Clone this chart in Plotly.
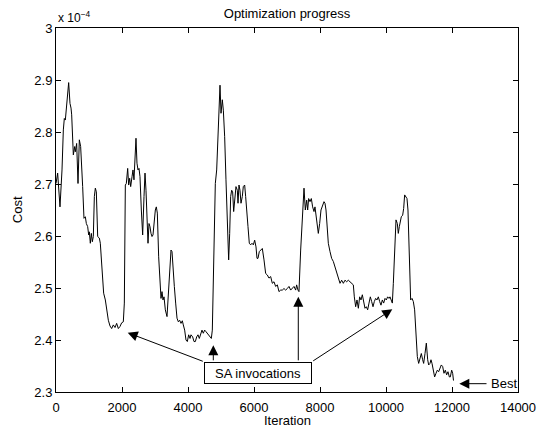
"""Optimization progress: cost per iteration, MATLAB-style figure."""
import plotly.graph_objects as go

# cost values are in units of 1e-4 (the axis carries the "x 10^-4" multiplier)
iteration = [
    0, 50, 121, 182, 222, 252, 283, 323, 384, 424, 455, 475, 525, 566, 586, 626, 667, 707, 747, 808,
    848, 889, 919, 960, 990, 1010, 1040, 1071, 1101, 1131, 1162, 1192, 1222, 1263, 1313, 1343, 1394,
    1444, 1495, 1535, 1586, 1636, 1687, 1737, 1788, 1838, 1889, 1939, 1990, 2040, 2071, 2101,
    2131, 2172, 2202, 2232, 2263, 2303, 2333, 2363, 2394, 2424, 2454, 2485, 2515, 2545, 2586, 2626,
    2667, 2697, 2727, 2757, 2788, 2818, 2848, 2879, 2909, 2939, 2970, 3010, 3040, 3071, 3111, 3152,
    3182, 3212, 3242, 3273, 3313, 3364, 3404, 3444, 3485, 3515, 3545, 3586, 3626, 3667, 3707, 3747,
    3788, 3828, 3858, 3899, 3939, 3980, 4020, 4061, 4091,
    4141, 4182, 4222, 4263, 4303, 4343, 4384, 4424, 4464, 4505, 4545, 4586, 4626, 4666, 4707, 4737,
    4767, 4798, 4828, 4869, 4899, 4919, 4939, 4970, 5000, 5020, 5040, 5071, 5111, 5151, 5192, 5232,
    5263, 5293, 5323, 5353, 5384, 5414, 5454, 5495, 5515, 5545, 5575, 5606, 5646, 5676, 5717, 5747,
    5777, 5818, 5858, 5899, 5939, 5980, 6020, 6061, 6091,
    6121, 6161, 6202, 6252, 6303, 6353, 6404, 6454, 6505, 6555, 6606, 6656, 6707, 6757, 6808, 6858,
    6909, 6959, 7010, 7060, 7111, 7161, 7212, 7262, 7292, 7333, 7363, 7414, 7464, 7515, 7555, 7596,
    7626, 7656, 7697, 7737, 7777, 7818, 7848, 7888, 7919, 7949, 7990, 8030,
    8121, 8151, 8182, 8212, 8252, 8303, 8353, 8404, 8454, 8505, 8555, 8606, 8656, 8707, 8757, 8808,
    8858, 8909, 8959, 9010, 9040, 9081, 9121, 9162, 9202, 9242, 9283, 9323, 9363, 9404, 9444, 9485,
    9525, 9565, 9606, 9646, 9687, 9727, 9768, 9808, 9848, 9889, 9929, 9970, 10010, 10050, 10091,
    10121, 10162, 10192, 10222, 10262, 10303, 10343, 10373, 10404, 10434, 10464, 10505, 10535, 10565,
    10606, 10636, 10666, 10707, 10747, 10788, 10828, 10868, 10909, 10949, 10990, 11030, 11071, 11111,
    11141, 11182, 11222, 11263, 11293, 11333, 11363, 11394, 11434, 11474, 11515, 11555, 11596, 11636,
    11676, 11717, 11757, 11798, 11838, 11878, 11919, 11949, 11990, 12020, 12045,
]
cost = [
    2.701, 2.721, 2.656, 2.727, 2.804, 2.826, 2.823, 2.855, 2.895, 2.855, 2.846, 2.833, 2.756, 2.772,
    2.762, 2.778, 2.701, 2.785, 2.772, 2.695, 2.634, 2.637, 2.624, 2.618, 2.602, 2.608, 2.586, 2.605,
    2.589, 2.599, 2.676, 2.692, 2.685, 2.599, 2.596, 2.586, 2.535, 2.490, 2.477, 2.458, 2.438, 2.427,
    2.422, 2.429, 2.424, 2.432, 2.422, 2.426, 2.433, 2.435, 2.471, 2.698,
    2.701, 2.730, 2.698, 2.711, 2.695, 2.714, 2.727, 2.708, 2.746, 2.788, 2.740, 2.727, 2.730, 2.714,
    2.650, 2.602, 2.676, 2.721, 2.688, 2.637, 2.586, 2.624, 2.618, 2.605, 2.599, 2.602, 2.631, 2.650,
    2.656, 2.644, 2.560, 2.496, 2.480, 2.493, 2.477, 2.483, 2.458, 2.445, 2.483, 2.522, 2.573, 2.570,
    2.535, 2.503, 2.471, 2.442, 2.435, 2.438, 2.432, 2.437, 2.429, 2.419, 2.400, 2.397, 2.410, 2.403,
    2.410,
    2.406, 2.397, 2.397, 2.406, 2.410, 2.403, 2.413, 2.419, 2.413, 2.419, 2.416, 2.413, 2.410, 2.406,
    2.403, 2.419, 2.503, 2.618, 2.701, 2.727, 2.772, 2.788, 2.836, 2.890, 2.836, 2.855, 2.862, 2.842,
    2.791, 2.708, 2.612, 2.554, 2.605, 2.676, 2.688, 2.685, 2.647, 2.676, 2.695, 2.688, 2.663, 2.698,
    2.688, 2.663, 2.676, 2.695, 2.698, 2.676, 2.644, 2.618, 2.586, 2.583, 2.586, 2.583, 2.592, 2.579,
    2.557,
    2.557, 2.570, 2.573, 2.576, 2.554, 2.528, 2.525, 2.519, 2.522, 2.509, 2.512, 2.503, 2.506, 2.493,
    2.496, 2.496, 2.499, 2.496, 2.499, 2.503, 2.496, 2.499, 2.503, 2.496, 2.506, 2.496, 2.493, 2.573,
    2.644, 2.692, 2.650, 2.669, 2.650, 2.672, 2.666, 2.672, 2.656, 2.647, 2.656, 2.637, 2.628, 2.605,
    2.624, 2.650,
    2.666, 2.663, 2.650, 2.618, 2.586, 2.570, 2.557, 2.551, 2.541, 2.528, 2.519, 2.509, 2.515, 2.509,
    2.515, 2.512, 2.515, 2.512, 2.509, 2.506, 2.483, 2.464, 2.477, 2.461, 2.483, 2.477, 2.487, 2.471,
    2.461, 2.464, 2.458, 2.471, 2.483, 2.474, 2.464, 2.474, 2.480, 2.477, 2.483, 2.474, 2.467, 2.477,
    2.471, 2.480, 2.477, 2.483, 2.480,
    2.483, 2.477, 2.471, 2.509, 2.586, 2.631, 2.624, 2.605, 2.618, 2.631, 2.637, 2.640, 2.653, 2.679,
    2.676, 2.672, 2.650, 2.560, 2.477, 2.480, 2.474, 2.458, 2.406, 2.368, 2.355, 2.368, 2.374, 2.362,
    2.355, 2.374, 2.394, 2.362, 2.352, 2.355, 2.362, 2.355, 2.342, 2.329, 2.336, 2.342, 2.339, 2.346,
    2.352, 2.349, 2.336, 2.342, 2.333, 2.339, 2.329, 2.329, 2.342, 2.336, 2.322,
]

x_ticks = [0, 2000, 4000, 6000, 8000, 10000, 12000, 14000]
x_tick_labels = ["0", "2000", "4000", "6000", "8000", "10000", "12000", "14000"]
y_ticks = [2.3, 2.4, 2.5, 2.6, 2.7, 2.8, 2.9, 3.0]
y_tick_labels = ["2.3", "2.4", "2.5", "2.6", "2.7", "2.8", "2.9", "3"]

# SA invocation arrows: (tail iter, tail cost, tip iter, tip cost)
sa_arrows = [
    (4494, 2.358, 2173, 2.414),
    (4767, 2.358, 4767, 2.390),
    (7342, 2.358, 7342, 2.483),
    (7748, 2.358, 10191, 2.459),
]
best_tail = (13091, 2.316)
best_tip = (12221, 2.316)

FONT = "Liberation Sans, Arial, Helvetica, sans-serif"

fig = go.Figure()
fig.add_trace(
    go.Scatter(
        x=iteration,
        y=cost,
        mode="lines",
        line=dict(color="black", width=1),
        showlegend=False,
    )
)

annotations = []
for tx, ty, hx, hy in sa_arrows:
    annotations.append(
        dict(
            x=hx, y=hy, ax=tx, ay=ty, xref="x", yref="y", axref="x", ayref="y",
            text="", showarrow=True, arrowhead=2, arrowsize=2, arrowwidth=1, arrowcolor="black",
        )
    )
annotations.append(
    dict(
        x=6121, y=2.3375, xref="x", yref="y", text="SA invocations", showarrow=False,
        font=dict(size=13, color="black"), bgcolor="white", bordercolor="black",
        borderwidth=1, borderpad=2, width=102, height=16,
    )
)
annotations.append(
    dict(
        x=best_tip[0], y=best_tip[1], ax=best_tail[0], ay=best_tail[1],
        xref="x", yref="y", axref="x", ayref="y",
        text="", showarrow=True, arrowhead=2, arrowsize=2, arrowwidth=1, arrowcolor="black",
    )
)
annotations.append(
    dict(
        x=13130, y=best_tail[1], xref="x", yref="y", text="Best", showarrow=False,
        xanchor="left", font=dict(size=13, color="black"),
    )
)
annotations.append(
    dict(
        x=0, y=1.0, xref="paper", yref="paper", xanchor="left", yanchor="bottom", yshift=1,
        text="x 10<sup>−4</sup>", showarrow=False, font=dict(size=12, color="black"),
    )
)
annotations.append(
    dict(
        x=-0.084, y=0.5, xref="paper", yref="paper", xanchor="center", yanchor="middle",
        text="Cost", textangle=-90, showarrow=False, font=dict(size=13, color="black"),
    )
)
annotations.append(
    dict(
        x=0.5, y=-0.077, xref="paper", yref="paper", xanchor="center", yanchor="middle",
        text="Iteration", showarrow=False, font=dict(size=13, color="black"),
    )
)

fig.update_layout(
    width=547,
    height=429,
    margin=dict(l=56, r=29, t=28, b=37),
    paper_bgcolor="white",
    plot_bgcolor="white",
    font=dict(family=FONT, size=13, color="black"),
    title=dict(
        text="Optimization progress", x=0.5, xref="paper", xanchor="center",
        y=1 - 13 / 429, yref="container", yanchor="middle", font=dict(size=13),
    ),
    annotations=annotations,
)
fig.update_xaxes(
    range=[0, 14000], tickvals=x_ticks, ticktext=x_tick_labels, ticks="inside", ticklen=5,
    tickcolor="black", showline=True, linecolor="black", linewidth=1, mirror="ticks",
    showgrid=False, zeroline=False, ticklabelstandoff=3,
)
fig.update_yaxes(
    range=[2.3, 3.0], tickvals=y_ticks, ticktext=y_tick_labels, ticks="inside", ticklen=5,
    tickcolor="black", showline=True, linecolor="black", linewidth=1, mirror="ticks",
    showgrid=False, zeroline=False,
)

# drop the browser's default body margin so the figure sits at the page origin
fig.write_html(
    "out.html",
    config={"displayModeBar": False},
    post_script="document.body.style.margin = '0';",
)
